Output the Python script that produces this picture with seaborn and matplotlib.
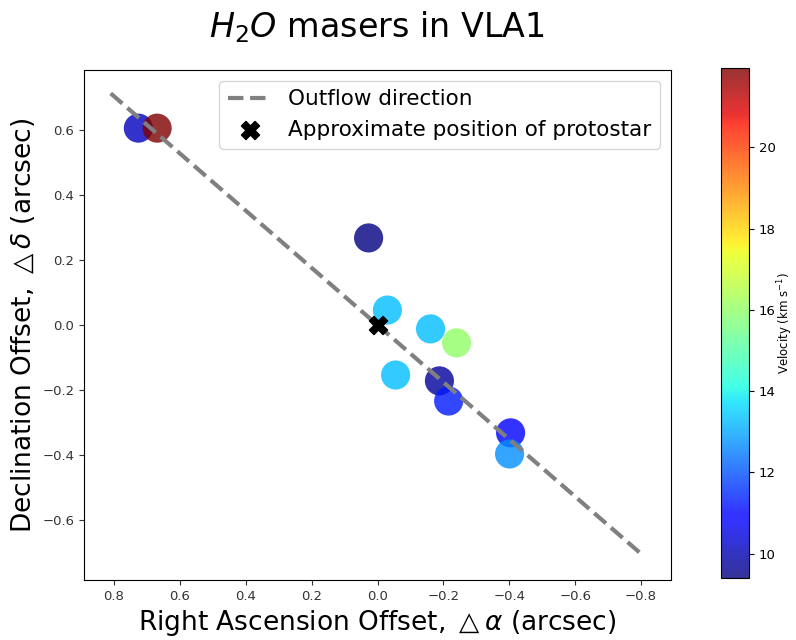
import numpy as np
import pandas as pd
import matplotlib
matplotlib.use("Agg")
import matplotlib.pyplot as plt
import seaborn as sns

# Data
ra_offset = [0.726, 0.669, 0.027, -0.030, -0.161, -0.240, -0.055, -0.188, -0.216, -0.404, -0.401]
dec_offset = [0.606, 0.606, 0.268, 0.046, -0.012, -0.055, -0.154, -0.172, -0.234, -0.332, -0.397]
velocity = [10.1, 21.95, 9.4, 13.3, 13.3, 16.0, 13.3, 9.7, 11.3, 10.9, 12.7]
outflow_x = [0.81, -0.81]
outflow_y = [0.713, -0.713]
protostar_x = [0.0]
protostar_y = [0.0]

df = pd.DataFrame({"ra": ra_offset, "dec": dec_offset, "vel": velocity})
vmin, vmax = min(velocity), max(velocity)
jet = matplotlib.colormaps["jet"]

fig = plt.figure(figsize=(7.96, 6.4), dpi=100)
ax = fig.add_axes([84 / 796, 1 - 580 / 640, (671 - 84) / 796, (580 - 70) / 640])
cax = fig.add_axes([721 / 796, 1 - 578 / 640, 28 / 796, (578 - 68) / 640])

sns.scatterplot(data=df, x="ra", y="dec", hue="vel", palette=jet,
                hue_norm=(vmin, vmax), s=440, alpha=0.8, edgecolor="none",
                legend=False, ax=ax, zorder=2)
ax.plot(outflow_x, outflow_y, ls="--", color="gray", lw=3, zorder=3,
        label="Outflow direction")
ax.scatter(protostar_x, protostar_y, marker="X", s=170, color="black", zorder=4,
           label="Approximate position of protostar")

ax.set_xlim(0.891, -0.891)
ax.set_ylim(-0.785, 0.785)
ax.set_xticks([0.8, 0.6, 0.4, 0.2, 0.0, -0.2, -0.4, -0.6, -0.8])
ax.set_yticks([-0.6, -0.4, -0.2, 0.0, 0.2, 0.4, 0.6])
ax.tick_params(labelsize=9.5, colors="#333333")
ax.set_xlabel(r"Right Ascension Offset, $\triangle\alpha$ (arcsec)", fontsize=19)
ax.set_ylabel(r"Declination Offset, $\triangle\delta$ (arcsec)", fontsize=19)
ax.legend(loc="upper right", fontsize=15.5)
fig.suptitle(r"$H_2O$ masers in VLA1", fontsize=24, x=377 / 796, y=0.985)

sm = matplotlib.cm.ScalarMappable(norm=matplotlib.colors.Normalize(vmin, vmax), cmap=jet)
sm.set_array([])
cb = fig.colorbar(sm, cax=cax, alpha=0.8)
cb.set_label(r"Velocity (km s$^{-1}$)", fontsize=8.5, labelpad=0)
cb.ax.tick_params(labelsize=9.5)

fig.savefig("out.png", dpi=100)
